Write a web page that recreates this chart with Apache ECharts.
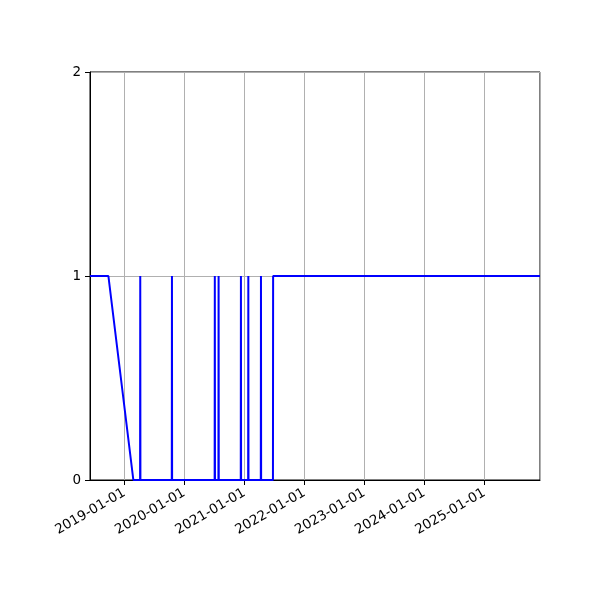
<!DOCTYPE html>
<html><head><meta charset="utf-8">
<script src="https://cdn.jsdelivr.net/npm/echarts@6/dist/echarts.min.js"></script>
<style>html,body{margin:0;padding:0;background:#fff}#c{width:600px;height:600px}</style>
</head><body><div id="c"></div>
<script>
const dates = [
  '2018-06-06','2018-09-26','2019-02-25',
  '2019-04-07','2019-04-08','2019-04-09',
  '2019-10-17','2019-10-18','2019-10-19',
  '2020-07-04','2020-07-05','2020-07-06',
  '2020-07-27','2020-07-28','2020-07-29',
  '2020-12-10','2020-12-11','2020-12-12',
  '2021-01-24','2021-01-25','2021-01-26',
  '2021-04-11','2021-04-12','2021-04-13',
  '2021-06-24','2021-06-25','2025-12-06'
];
const values = [
  1,1,0,
  0,1,0,
  0,1,0,
  0,1,0,
  0,1,0,
  0,1,0,
  0,1,0,
  0,1,0,
  0,1,1
];
const yTicks = [0,1,2];
const xMin = '2018-06-06', xMax = '2025-12-06';

const chart = echarts.init(document.getElementById('c'), null, {renderer:'canvas'});
const font = 'DejaVu Sans';
chart.setOption({
  animation:false,
  grid:{left:90,right:60,top:72,bottom:120,show:true,borderColor:'#000',borderWidth:1,backgroundColor:'transparent'},
  xAxis:{
    type:'time', min:xMin, max:xMax,
    minInterval:365*86400000, maxInterval:366*86400000,
    axisLine:{show:true,lineStyle:{color:'#000',width:1}},
    axisTick:{show:true,length:5,lineStyle:{color:'#000'}},
    splitLine:{show:true,lineStyle:{color:'#b0b0b0',width:1}},
    axisLabel:{rotate:30,color:'#000',fontFamily:font,fontSize:13.5,margin:12,
      formatter:'{yyyy}-{MM}-{dd}',showMinLabel:false,showMaxLabel:false,hideOverlap:false}
  },
  yAxis:{
    type:'value', min:yTicks[0], max:yTicks[yTicks.length-1], interval:1,
    axisLine:{show:true,lineStyle:{color:'#000',width:1}},
    axisTick:{show:true,length:5,lineStyle:{color:'#000'}},
    splitLine:{show:true,lineStyle:{color:'#b0b0b0',width:1}},
    axisLabel:{color:'#000',fontFamily:font,fontSize:13.5,margin:9}
  },
  series:[{
    type:'line', showSymbol:false, symbol:'none',
    data:dates.map((d,i)=>[d,values[i]]),
    lineStyle:{color:'#0000ff',width:2},
    clip:true
  }]
});
</script></body></html>
